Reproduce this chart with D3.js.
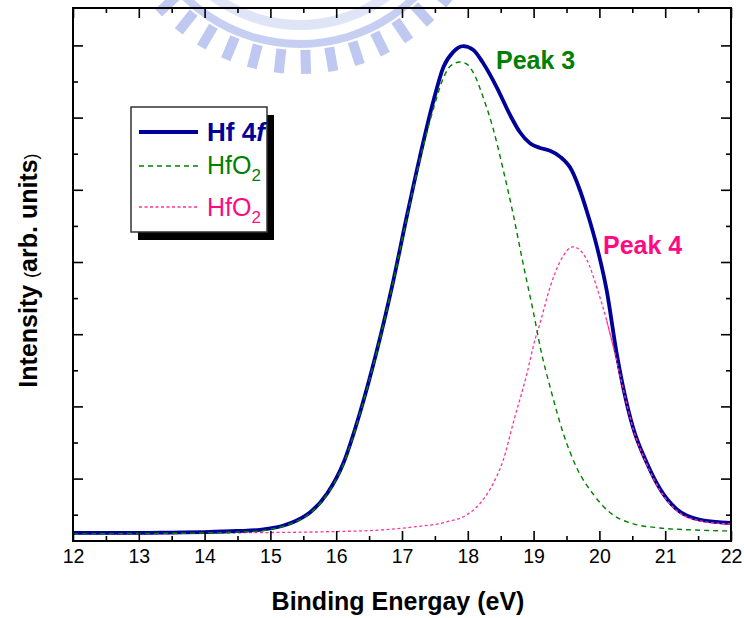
<!DOCTYPE html>
<html>
<head>
<meta charset="utf-8">
<script src="https://cdn.jsdelivr.net/npm/d3@7"></script>
<style>
html,body{margin:0;padding:0;background:#fff;}
svg{display:block;font-family:"Liberation Sans",Arial,sans-serif;}
</style>
</head>
<body>
<svg id="chart" width="744" height="618"></svg>
<script>
// ---- data (intensity in arbitrary units) ----
const xTicks = [12,13,14,15,16,17,18,19,20,21,22];
const xMinorTicks = [12.5,13.5,14.5,15.5,16.5,17.5,18.5,19.5,20.5,21.5];
const yTicks = [1,2,3,4,5,6,7];
const yMinorTicks = [0.5,1.5,2.5,3.5,4.5,5.5,6.5];

const totalX = [12.0,12.5,13.0,13.5,14.0,14.5,14.84,15.0,15.2,15.4,15.6,15.86,16.11,16.36,16.62,16.87,17.07,17.27,17.48,17.63,17.78,17.93,18.08,18.23,18.44,18.64,18.79,18.95,19.1,19.25,19.4,19.58,19.71,19.81,19.96,20.11,20.26,20.36,20.51,20.72,20.92,21.17,21.53,22.0];
const totalY = [0.247,0.247,0.247,0.253,0.26,0.274,0.29,0.31,0.35,0.42,0.53,0.79,1.216,1.909,2.781,3.75,4.62,5.45,6.24,6.70,6.91,6.99,6.94,6.76,6.42,6.04,5.80,5.64,5.58,5.54,5.46,5.27,4.98,4.70,4.22,3.61,2.75,2.27,1.71,1.22,0.86,0.58,0.43,0.385];

const peak3X = [12.0,13.0,14.0,14.5,14.84,15.0,15.2,15.4,15.6,15.86,16.11,16.36,16.62,16.87,17.07,17.27,17.48,17.63,17.73,17.88,18.0,18.08,18.23,18.39,18.54,18.69,18.84,19.0,19.12,19.25,19.45,19.65,19.91,20.16,20.47,20.92,21.43,22.0];
const peak3Y = [0.233,0.24,0.247,0.26,0.275,0.30,0.34,0.41,0.52,0.78,1.20,1.90,2.77,3.74,4.60,5.41,6.13,6.55,6.71,6.77,6.73,6.63,6.29,5.83,5.27,4.66,3.98,3.29,2.74,2.27,1.63,1.16,0.78,0.53,0.385,0.316,0.288,0.274];

const peak4X = [12.0,13.0,14.0,15.0,16.0,16.67,17.17,17.68,17.98,18.19,18.39,18.54,18.69,18.9,19.02,19.1,19.25,19.4,19.6,19.81,19.96,20.11,20.24,20.36,20.51,20.72,20.92,21.17,21.53,22.0];
const peak4Y = [0.233,0.233,0.247,0.253,0.267,0.288,0.33,0.40,0.496,0.66,0.94,1.26,1.77,2.46,2.92,3.16,3.65,4.0,4.21,4.03,3.65,3.19,2.72,2.25,1.70,1.20,0.84,0.56,0.415,0.37];

const legendLabels = ["Hf 4f","HfO2","HfO2"];
const peakLabels = ["Peak 3","Peak 4"];

// ---- layout ----
const L = 73, R = 731, T = 8, B = 541;
const svg = d3.select("#chart");
const x = d3.scaleLinear().domain([12,22]).range([L,R]);
const y = d3.scaleLinear().domain([0.1357,7.518]).range([B,T]);

const BLUE = "#000099", GREEN = "#008000", PINK = "#ff0a84", PINKL = "#ff3399";

// watermark (faint logo-like emblem)
const wm = svg.append("g").attr("transform","translate(300,-120)").attr("opacity",0.75);
const arc = d3.arc();
wm.append("path")
  .attr("d", arc({innerRadius:160,outerRadius:168,startAngle:Math.PI*0.62,endAngle:Math.PI*1.38}))
  .attr("fill","#b4c0ee");
wm.append("path")
  .attr("d", arc({innerRadius:140,outerRadius:150,startAngle:Math.PI*0.66,endAngle:Math.PI*1.34}))
  .attr("fill","#d6dcf5");
const teeth = d3.range(0.72,1.29,0.045);
wm.selectAll("rect.tooth").data(teeth).join("rect")
  .attr("x",-5).attr("y",170).attr("width",10).attr("height",24)
  .attr("transform",d=>`rotate(${(d-1)*180})`)
  .attr("fill","#a9b6ec");

// curves
const line = d3.line().x(d=>x(d[0])).y(d=>y(d[1])).curve(d3.curveMonotoneX);
const g = svg.append("g");
g.append("path").datum(d3.zip(peak4X,peak4Y)).attr("d",line)
  .attr("fill","none").attr("stroke",PINKL).attr("stroke-width",1.3).attr("stroke-dasharray","3,2.5");
g.append("path").datum(d3.zip(totalX,totalY)).attr("d",line)
  .attr("fill","none").attr("stroke",BLUE).attr("stroke-width",3.8).attr("stroke-linejoin","round");
g.append("path").datum(d3.zip(peak3X,peak3Y)).attr("d",line)
  .attr("fill","none").attr("stroke",GREEN).attr("stroke-width",1.4).attr("stroke-dasharray","5,4");
g.append("path").datum(d3.zip(peak4X,peak4Y).filter(d=>d[0]>20.1)).attr("d",line)
  .attr("fill","none").attr("stroke",PINKL).attr("stroke-width",1.3).attr("stroke-dasharray","3,2.5");

// axes
function style(sel){ sel.select(".domain").remove(); sel.selectAll("line").attr("stroke","#000").attr("stroke-width",1.6); }
svg.append("g").attr("transform",`translate(0,${B})`)
  .call(d3.axisBottom(x).tickValues(xTicks).tickSize(-10).tickPadding(8).tickFormat(d3.format("d")))
  .call(style)
  .call(s=>s.selectAll("text").attr("font-size",19.5).attr("fill","#000").attr("font-family","Liberation Sans, Arial, sans-serif"));
svg.append("g").attr("transform",`translate(0,${B})`)
  .call(d3.axisBottom(x).tickValues(xMinorTicks).tickSize(-5).tickFormat("")).call(style);
svg.append("g").attr("transform",`translate(0,${T})`)
  .call(d3.axisTop(x).tickValues(xTicks).tickSize(-10).tickFormat("")).call(style);
svg.append("g").attr("transform",`translate(0,${T})`)
  .call(d3.axisTop(x).tickValues(xMinorTicks).tickSize(-5).tickFormat("")).call(style);
svg.append("g").attr("transform",`translate(${L},0)`)
  .call(d3.axisLeft(y).tickValues(yTicks).tickSize(-10).tickFormat("")).call(style);
svg.append("g").attr("transform",`translate(${L},0)`)
  .call(d3.axisLeft(y).tickValues(yMinorTicks).tickSize(-5).tickFormat("")).call(style);
svg.append("g").attr("transform",`translate(${R},0)`)
  .call(d3.axisRight(y).tickValues(yTicks).tickSize(-10).tickFormat("")).call(style);
svg.append("g").attr("transform",`translate(${R},0)`)
  .call(d3.axisRight(y).tickValues(yMinorTicks).tickSize(-5).tickFormat("")).call(style);

svg.append("rect").attr("x",L).attr("y",T).attr("width",R-L).attr("height",B-T)
  .attr("fill","none").attr("stroke","#000").attr("stroke-width",2);

// axis titles
svg.append("text").attr("x",(L+R)/2 - 4).attr("y",610).attr("text-anchor","middle")
  .attr("font-size",25).attr("font-weight","bold").text("Binding Energay (eV)");
const yt = svg.append("text").attr("transform",`translate(37,${(T+B)/2 - 4}) rotate(-90)`)
  .attr("text-anchor","middle").attr("font-size",25).attr("font-weight","bold");
yt.append("tspan").text("Intensity ");
yt.append("tspan").attr("font-size",18).attr("font-weight","normal").text("(");
yt.append("tspan").text("arb. units");
yt.append("tspan").attr("font-size",18).attr("font-weight","normal").text(")");

// peak labels
svg.append("text").attr("x",496).attr("y",69).attr("fill",GREEN).attr("font-size",25).attr("font-weight","bold").text(peakLabels[0]);
svg.append("text").attr("x",603).attr("y",254).attr("fill",PINK).attr("font-size",25).attr("font-weight","bold").text(peakLabels[1]);

// legend
const lg = svg.append("g");
lg.append("rect").attr("x",138).attr("y",115).attr("width",136).attr("height",125).attr("fill","#000");
lg.append("rect").attr("x",131).attr("y",107).attr("width",136).attr("height",125).attr("fill","#fff").attr("stroke","#333").attr("stroke-width",1.5);
lg.append("line").attr("x1",139).attr("x2",198).attr("y1",132).attr("y2",132).attr("stroke",BLUE).attr("stroke-width",3.8);
lg.append("line").attr("x1",139).attr("x2",198).attr("y1",166).attr("y2",166).attr("stroke",GREEN).attr("stroke-width",1.4).attr("stroke-dasharray","5,4");
lg.append("line").attr("x1",139).attr("x2",198).attr("y1",207).attr("y2",207).attr("stroke",PINKL).attr("stroke-width",1.3).attr("stroke-dasharray","3,2.5");
const t1 = lg.append("text").attr("x",207).attr("y",141).attr("fill",BLUE).attr("font-size",26).attr("font-weight","bold");
t1.append("tspan").text(legendLabels[0].slice(0,4));
t1.append("tspan").attr("font-style","italic").text(legendLabels[0].slice(4));
[[174,GREEN,legendLabels[1]],[216,PINK,legendLabels[2]]].forEach(([yy,c,lab])=>{
  const t = lg.append("text").attr("x",207).attr("y",yy).attr("fill",c).attr("font-size",25);
  t.append("tspan").text(lab.slice(0,3));
  t.append("tspan").attr("font-size",17).attr("dy",7).text(lab.slice(3));
});
</script>
</body>
</html>
